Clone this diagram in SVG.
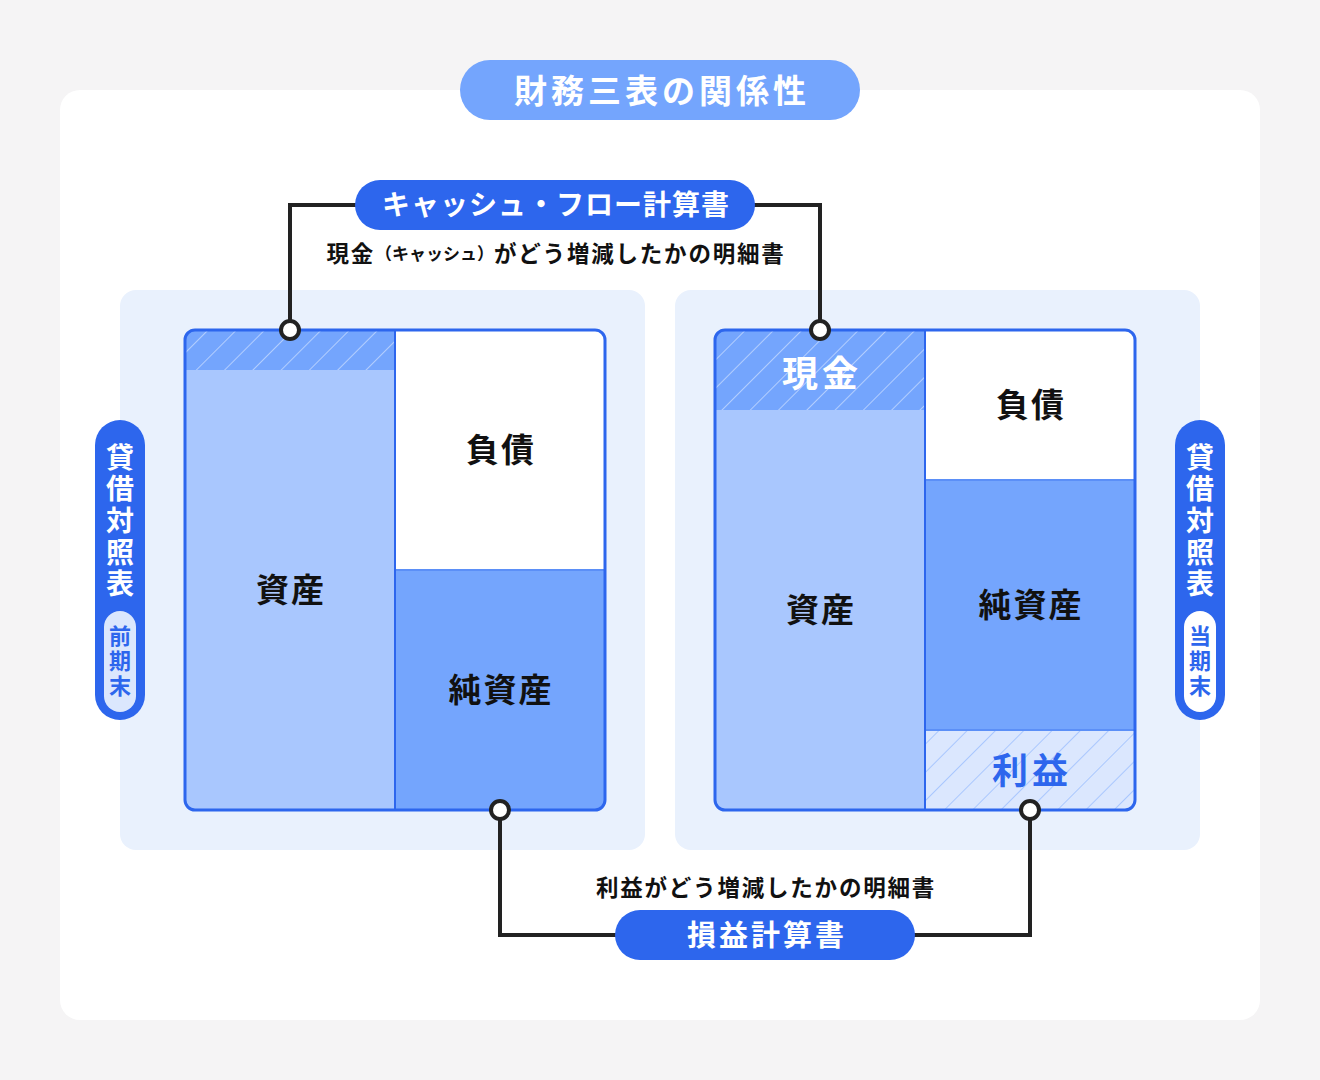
<svg xmlns="http://www.w3.org/2000/svg" width="1320" height="1080" viewBox="0 0 1320 1080">
<defs>
<style>
text{font-family:"Noto Sans CJK JP","Noto Sans",sans-serif;font-weight:700;text-anchor:middle;dominant-baseline:central}
.big{font-size:33px;fill:#111;letter-spacing:2px}
.wire{fill:none;stroke:#222;stroke-width:4;stroke-linejoin:miter}
.dot{fill:#fff;stroke:#222;stroke-width:4}
.pill{fill:#2d66ed}
.sub{font-size:22.5px;fill:#111;letter-spacing:1.8px}
.vt{font-size:28px;fill:#fff;writing-mode:vertical-rl;text-anchor:start;letter-spacing:3.7px}
.vi{font-size:22px;fill:#2d66ed;writing-mode:vertical-rl;text-anchor:start;letter-spacing:3px}
</style>
<pattern id="hatchDark" width="20" height="20" patternUnits="userSpaceOnUse" patternTransform="rotate(45)">
<rect width="20" height="20" fill="#74a5fd"/>
<line x1="0" y1="0" x2="0" y2="20" stroke="#fff" stroke-opacity="0.45" stroke-width="2"/>
</pattern>
<pattern id="hatchLight" width="20" height="20" patternUnits="userSpaceOnUse" patternTransform="rotate(45)">
<rect width="20" height="20" fill="#dbe7fe"/>
<line x1="0" y1="0" x2="0" y2="20" stroke="#a9c7fe" stroke-width="2"/>
</pattern>
<clipPath id="clipL"><rect x="185" y="330" width="420" height="480" rx="10"/></clipPath>
<clipPath id="clipR"><rect x="715" y="330" width="420" height="480" rx="10"/></clipPath>
</defs>
<rect width="1320" height="1080" fill="#f5f4f5"/>
<rect x="60" y="90" width="1200" height="930" rx="20" fill="#fff"/>

<g id="title">
<rect x="460" y="60" width="400" height="60" rx="30" fill="#74a5fd"/>
<text x="662" y="89" font-size="33" fill="#fff" letter-spacing="4">財務三表の関係性</text>
</g>

<rect x="120" y="290" width="525" height="560" rx="16" fill="#e9f1fd"/>
<rect x="675" y="290" width="525" height="560" rx="16" fill="#e9f1fd"/>

<g id="bs-prev">
<g clip-path="url(#clipL)">
<rect x="185" y="330" width="210" height="480" fill="#a9c7fe"/>
<rect x="185" y="330" width="210" height="40" fill="url(#hatchDark)"/>
<rect x="395" y="330" width="210" height="240" fill="#fff"/>
<rect x="395" y="570" width="210" height="240" fill="#74a5fd"/>
<line x1="395" y1="570" x2="605" y2="570" stroke="#5b8ff7" stroke-width="2"/>
<line x1="395" y1="330" x2="395" y2="810" stroke="#2d66ed" stroke-width="2"/>
</g>
<rect x="185" y="330" width="420" height="480" rx="10" fill="none" stroke="#2d66ed" stroke-width="3"/>
<text class="big" x="291" y="588">資産</text>
<text class="big" x="501" y="448">負債</text>
<text class="big" x="501" y="688">純資産</text>
</g>

<g id="bs-curr">
<g clip-path="url(#clipR)">
<rect x="715" y="330" width="210" height="480" fill="#a9c7fe"/>
<rect x="715" y="330" width="210" height="80" fill="url(#hatchDark)"/>
<rect x="925" y="330" width="210" height="150" fill="#fff"/>
<rect x="925" y="480" width="210" height="250" fill="#74a5fd"/>
<rect x="925" y="730" width="210" height="80" fill="url(#hatchLight)"/>
<line x1="925" y1="480" x2="1135" y2="480" stroke="#5b8ff7" stroke-width="2"/>
<line x1="925" y1="730" x2="1135" y2="730" stroke="#5b8ff7" stroke-width="2"/>
<line x1="925" y1="330" x2="925" y2="810" stroke="#2d66ed" stroke-width="2"/>
</g>
<rect x="715" y="330" width="420" height="480" rx="10" fill="none" stroke="#2d66ed" stroke-width="3"/>
<text x="822" y="371" font-size="36" fill="#fff" letter-spacing="4">現金</text>
<text class="big" x="821" y="608">資産</text>
<text class="big" x="1031" y="403">負債</text>
<text class="big" x="1031" y="603">純資産</text>
<text x="1032" y="768" font-size="36" fill="#2d66ed" letter-spacing="4">利益</text>
</g>

<g id="connectors">
<path class="wire" d="M290 330 V205 H820 V330"/>
<path class="wire" d="M500 810 V935 H1030 V810"/>
<circle class="dot" cx="290" cy="330" r="9"/>
<circle class="dot" cx="820" cy="330" r="9"/>
<circle class="dot" cx="500" cy="810" r="9"/>
<circle class="dot" cx="1030" cy="810" r="9"/>
</g>

<g id="cf">
<rect class="pill" x="355" y="180" width="400" height="50" rx="25"/>
<text x="556" y="203" font-size="28" fill="#fff" letter-spacing="1">キャッシュ・フロー計算書</text>
<text class="sub" x="556" y="252">現金<tspan font-size="17" letter-spacing="0">（キャッシュ）</tspan>がどう増減したかの明細書</text>
</g>

<g id="pl">
<rect class="pill" x="615" y="910" width="300" height="50" rx="25"/>
<text x="767" y="933" font-size="29" fill="#fff" letter-spacing="3">損益計算書</text>
<text class="sub" x="766" y="886">利益がどう増減したかの明細書</text>
</g>

<g id="label-prev">
<rect class="pill" x="95" y="420" width="50" height="300" rx="25"/>
<text class="vt" x="120" y="443">貸借対照表</text>
<rect x="104" y="611" width="32" height="101" rx="16" fill="#dbe7fd"/>
<text class="vi" x="120" y="625">前期末</text>
</g>

<g id="label-curr">
<rect class="pill" x="1175" y="420" width="50" height="300" rx="25"/>
<text class="vt" x="1200" y="443">貸借対照表</text>
<rect x="1184" y="611" width="32" height="101" rx="16" fill="#fff"/>
<text class="vi" x="1200" y="625">当期末</text>
</g>
</svg>
